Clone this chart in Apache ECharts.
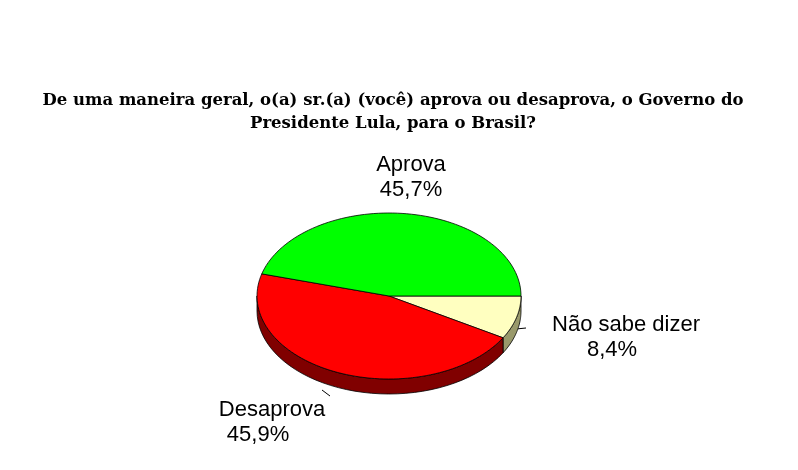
<!DOCTYPE html>
<html><head><meta charset="utf-8">
<script src="https://cdn.jsdelivr.net/npm/echarts@6/dist/echarts.min.js"></script>
<style>html,body{margin:0;background:#fff}#c{width:798px;height:470px}</style>
</head><body><div id="c"></div>
<script>
const categories = ['Não sabe dizer', 'Desaprova', 'Aprova'];
const values = [8.4, 45.9, 45.7];
const labels = ['8,4%', '45,9%', '45,7%'];
const topColors = ['#FFFFC0', '#FF0000', '#00FF00'];
const sideColors = ['#99996B', '#800000', '#008000'];

const chart = echarts.init(document.getElementById('c'));
function renderItem(params, api) {
  const cx = 389, cy = 296, rx = 132, ry = 83, depth = 15;
  const total = values.reduce((a, b) => a + b, 0);
  const pt = (a, dy) => [cx + rx * Math.cos(a), cy + ry * Math.sin(a) + (dy || 0)];
  const children = [];
  let start = 0;
  const slices = values.map(v => { const s = start; start += v / total * Math.PI * 2; return [s, start]; });
  slices.forEach(([s, e], i) => {
    const a0 = Math.max(s, 0), a1 = Math.min(e, Math.PI);
    if (a1 <= a0) return;
    const pts = [];
    const n = 40;
    for (let k = 0; k <= n; k++) pts.push(pt(a0 + (a1 - a0) * k / n, 0));
    for (let k = n; k >= 0; k--) pts.push(pt(a0 + (a1 - a0) * k / n, depth));
    children.push({ type: 'polygon', shape: { points: pts }, style: { fill: sideColors[i], stroke: '#000', lineWidth: 0.8 } });
  });
  slices.forEach(([s, e], i) => {
    const pts = [[cx, cy]];
    const n = 80;
    for (let k = 0; k <= n; k++) pts.push(pt(s + (e - s) * k / n, 0));
    children.push({ type: 'polygon', shape: { points: pts }, style: { fill: topColors[i], stroke: '#000', lineWidth: 0.8 } });
  });
  return { type: 'group', children };
}
const lab = (x, y, t) => ({ type: 'text', x, y, style: { text: t, font: '22px "Liberation Sans", Arial', fill: '#000', textAlign: 'center', textVerticalAlign: 'middle' } });
chart.setOption({
  animation: false,
  title: {
    text: 'De uma maneira geral, o(a) sr.(a) (você) aprova ou desaprova, o Governo do\nPresidente Lula, para o Brasil?',
    left: 388, top: 84, textAlign: 'center',
    textStyle: { fontFamily: '"DejaVu Serif", serif', fontWeight: 'bold', fontSize: 16.5, lineHeight: 23, color: '#000' }
  },
  series: [{ type: 'custom', coordinateSystem: 'none', renderItem, data: [0], silent: true }],
  graphic: [
    lab(411, 165, categories[2]), lab(411, 190, labels[2]),
    lab(626, 325, categories[0]), lab(612, 350, labels[0]),
    lab(272, 410, categories[1]), lab(258, 435, labels[1]),
    { type: 'line', shape: { x1: 506, y1: 330, x2: 526, y2: 328 }, style: { stroke: '#000', lineWidth: 1 } },
    { type: 'line', shape: { x1: 322, y1: 390, x2: 330, y2: 396 }, style: { stroke: '#000', lineWidth: 1 } }
  ]
});
</script></body></html>
